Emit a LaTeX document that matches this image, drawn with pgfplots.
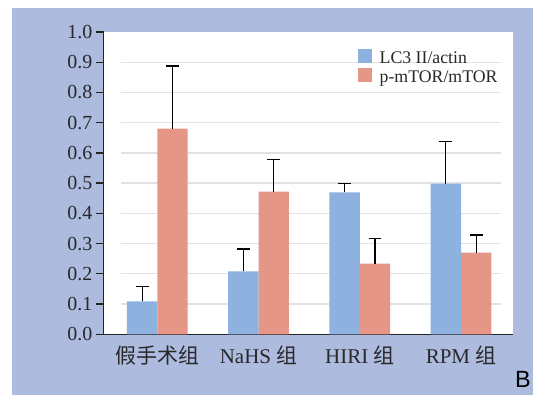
\documentclass[border=0pt]{standalone}
\usepackage{fontspec}
\setmainfont{Liberation Serif}
\setsansfont{Liberation Sans}
\newfontfamily\cjk{Noto Sans CJK SC}
\usepackage{pgfplots}
\pgfplotsset{compat=1.18}
\usepackage{pgfplotstable}
\definecolor{bgblue}{RGB}{173,187,223}
\definecolor{lcblue}{RGB}{141,178,223}
\definecolor{salmon}{RGB}{229,150,134}
\definecolor{gridgray}{RGB}{226,226,226}
\definecolor{axisgray}{RGB}{35,35,35}
\definecolor{textgray}{RGB}{40,40,40}

\pgfplotstableread{
x lc lcerr mt mterr
0 0.109 0.048 0.680 0.207
1 0.208 0.074 0.472 0.106
2 0.469 0.030 0.234 0.084
3 0.498 0.139 0.270 0.058
}\data

\begin{document}
\begin{tikzpicture}
\fill[white] (0pt,0pt) rectangle (534pt,396pt);
\fill[bgblue] (12pt,0pt) rectangle (534pt,388pt);
\begin{axis}[
  at={(104pt,61pt)}, anchor=south west,
  scale only axis, width=410pt, height=303pt,
  xmin=-0.529, xmax=3.512, ymin=0, ymax=1,
  axis background/.style={fill=white},
  axis lines*=left,
  axis line style={line width=1.3pt, color=axisgray},
  ybar=0pt, bar width=0.30,
  legend image code/.code={\fill[#1] (0pt,-3.5pt) rectangle (14pt,10.5pt);},
  xtick={0,1,2,3},
  xticklabels={{\cjk 假手术组},{NaHS {\cjk 组}},{HIRI {\cjk 组}},{RPM {\cjk 组}}},
  xtick style={draw=none},
  ytick={0,0.1,0.2,0.3,0.4,0.5,0.6,0.7,0.8,0.9,1.0},
  ytick style={line width=1.3pt, color=axisgray},
  tick align=outside,
  major tick length=8pt,
  tick label style={text=textgray},
  xticklabel style={font=\fontsize{21}{22}\selectfont},
  yticklabel style={font=\fontsize{20}{21}\selectfont, /pgf/number format/.cd, fixed, fixed zerofill, precision=1},
  /pgf/number format/assume math mode=true,
  legend cell align=left,
  legend style={at={(0.622,0.944)}, anchor=north west, draw=none, fill=none,
    inner sep=0pt, outer sep=0pt, row sep=0pt,
    font=\fontsize{17.8}{20}\selectfont, text=textgray,
    nodes={text height=10.5pt, text depth=3pt, inner sep=2pt},
    /tikz/every odd column/.append style={column sep=5.5pt}},
]
\pgfplotsinvokeforeach{0.1,0.2,0.3,0.4,0.5,0.6,0.7,0.8,0.9}{
  \draw[gridgray, line width=1.3pt] (axis cs:-0.356,#1) -- (axis cs:3.39,#1);
}
\addplot[fill=lcblue, draw=none,
  error bars/.cd, y dir=plus, y explicit, error mark=|,
  error bar style={black, line width=1.2pt},
  error mark options={black, line width=1.2pt, mark size=6.5pt}]
  table[x=x, y=lc, y error=lcerr] {\data};
\addplot[fill=salmon, draw=none,
  error bars/.cd, y dir=plus, y explicit, error mark=|,
  error bar style={black, line width=1.2pt},
  error mark options={black, line width=1.2pt, mark size=6.5pt}]
  table[x=x, y=mt, y error=mterr] {\data};
\legend{LC3 II/actin, p-mTOR/mTOR}
\end{axis}
\node[font=\sffamily\fontsize{23.5}{24}\selectfont, text=black] at (524pt,15.5pt) {B};
\end{tikzpicture}
\end{document}
